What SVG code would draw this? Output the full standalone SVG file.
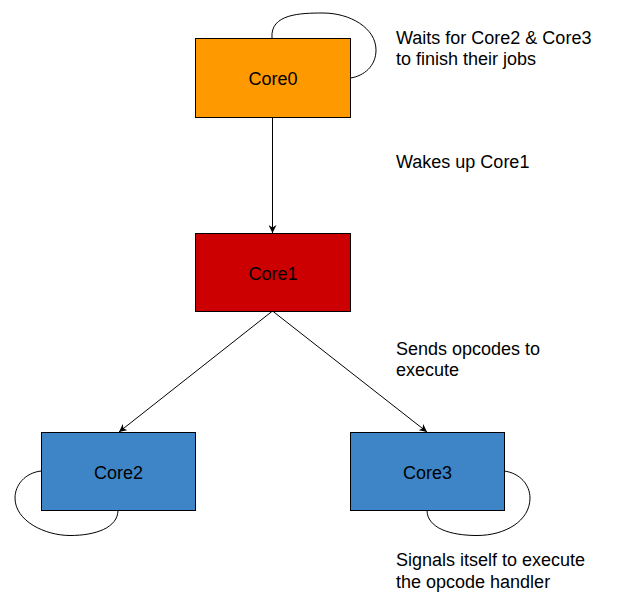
<svg xmlns="http://www.w3.org/2000/svg" width="618" height="607" viewBox="0 0 618 607">
<style>
.box{stroke:#000;stroke-width:1}
.lbl{font-family:"Liberation Sans",Arial,sans-serif;font-size:18px;fill:#000}
.node-text{text-anchor:middle}
.edge{fill:none;stroke:#000;stroke-width:1}
</style>
<defs>
<marker id="ah" viewBox="0 0 10 10" refX="10" refY="5" markerWidth="8" markerHeight="8" markerUnits="userSpaceOnUse" orient="auto">
<path d="M0,0 L10,5 L0,10 L3,5 Z" fill="#000"/>
</marker>
</defs>
<rect width="618" height="607" fill="#fff"/>
<g id="connectors">
<line class="edge" x1="272.5" y1="117" x2="272.5" y2="233" marker-end="url(#ah)"/>
<line class="edge" x1="272.5" y1="311" x2="119" y2="432" marker-end="url(#ah)"/>
<line class="edge" x1="272.5" y1="311" x2="427" y2="432" marker-end="url(#ah)"/>
<path class="edge" d="M272,38 C270,14 300,13 323,13 C350,13 376,28 376,50 C376,66 364,76 350.5,78"/>
<path class="edge" d="M41,471 C25,473 15,485 15,498 C15,521 45,535.5 70,535.5 C95,535.5 118,528 118,510"/>
<path class="edge" d="M504,471 C520,473 530,485 530,498 C530,521 505,535.5 477,535.5 C450,535.5 427,528 427,510"/>
</g>
<g id="core0">
<rect class="box" x="195.5" y="38.5" width="155" height="79" fill="#ff9900"/>
<text class="lbl node-text" x="273" y="85">Core0</text>
</g>
<g id="core1">
<rect class="box" x="195.5" y="233.5" width="155" height="78" fill="#cc0000"/>
<text class="lbl node-text" x="273" y="280">Core1</text>
</g>
<g id="core2">
<rect class="box" x="41.5" y="432.5" width="154" height="78" fill="#3d85c6"/>
<text class="lbl node-text" x="118.5" y="479">Core2</text>
</g>
<g id="core3">
<rect class="box" x="350.5" y="432.5" width="154" height="78" fill="#3d85c6"/>
<text class="lbl node-text" x="427.5" y="479">Core3</text>
</g>
<g id="notes">
<text class="lbl" x="396" y="44">Waits for Core2 &amp; Core3</text>
<text class="lbl" x="396" y="65">to finish their jobs</text>
<text class="lbl" x="396" y="168">Wakes up Core1</text>
<text class="lbl" x="396" y="355">Sends opcodes to</text>
<text class="lbl" x="396" y="376">execute</text>
<text class="lbl" x="396" y="566">Signals itself to execute</text>
<text class="lbl" x="396" y="588">the opcode handler</text>
</g>
</svg>
